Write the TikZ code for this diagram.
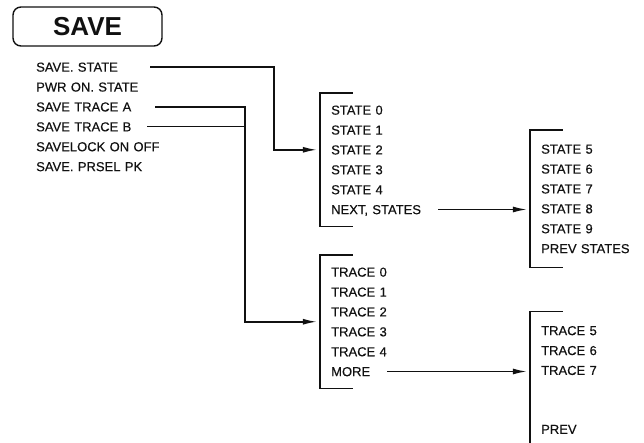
\documentclass[tikz,border=0pt]{standalone}
\usepackage{fontspec}
\setsansfont{Liberation Sans}
\newfontfamily\menufont{Liberation Sans}[FakeBold=0.4]
\usetikzlibrary{arrows.meta,positioning,fit}
\definecolor{ink}{HTML}{111111}
\tikzset{
  every node/.style={font=\sffamily},
  keycap/.style={draw=ink, rounded corners=8pt, line width=1.4pt, minimum width=149pt, minimum height=39pt, inner sep=0pt, text=ink, font=\sffamily\bfseries\fontsize{26}{26}\selectfont},
  item/.style={inner sep=0pt, text width=#1, align=left, minimum height=19.5pt, text height=9.3pt, text depth=0pt, text=ink, font=\menufont\fontsize{13}{13}\selectfont},
  item/.default=95pt,
  menu/.style={inner xsep=11pt, inner ysep=7pt},
  bracket/.style={draw=ink, line width=1.5pt},
  link/.style={draw=ink, line width=1.5pt},
  arrow/.style={-{Latex[length=14pt,width=6pt]}, line width=1.5pt, draw=ink, shorten >=3pt},
}

\begin{document}
\begin{tikzpicture}[x=1pt, y=-1pt, node distance=0pt]
\useasboundingbox (0,0) rectangle (644,443);
\node[keycap] (save) at (87.5,26.5) {SAVE};
\node[item=125pt, anchor=west] (ss) at (36,67) {SAVE. STATE};
\node[item=125pt, below=of ss] (pwr) {PWR ON. STATE};
\node[item=125pt, below=of pwr] (ta) {SAVE TRACE A};
\node[item=125pt, below=of ta] (tb) {SAVE TRACE B};
\node[item=125pt, below=of tb] (lock) {SAVELOCK ON OFF};
\node[item=125pt, below=of lock] (prsel) {SAVE. PRSEL PK};

\node[item, anchor=west] (s0) at (331,110) {STATE 0};
\node[item, below=of s0] (s1) {STATE 1};
\node[item, below=of s1] (s2) {STATE 2};
\node[item, below=of s2] (s3) {STATE 3};
\node[item, below=of s3] (s4) {STATE 4};
\node[item, below=of s4] (snext) {NEXT, STATES};
\node[menu, fit=(s0)(snext)] (m1) {};

\node[item, anchor=west] (s5) at (541,149) {STATE 5};
\node[item, below=of s5] (s6) {STATE 6};
\node[item, below=of s6] (s7) {STATE 7};
\node[item, below=of s7] (s8) {STATE 8};
\node[item, below=of s8] (s9) {STATE 9};
\node[item, below=of s9] (sprev) {PREV STATES};
\node[menu, fit=(s5)(sprev), inner ysep=9pt] (m2) {};

\node[item, anchor=west] (t0) at (331,272) {TRACE 0};
\node[item, below=of t0] (t1) {TRACE 1};
\node[item, below=of t1] (t2) {TRACE 2};
\node[item, below=of t2] (t3) {TRACE 3};
\node[item, below=of t3] (t4) {TRACE 4};
\node[item, below=of t4] (tmore) {MORE};
\node[menu, fit=(t0)(tmore)] (m3) {};

\node[item, anchor=west] (t5) at (541,330.5) {TRACE 5};
\node[item, below=of t5] (t6) {TRACE 6};
\node[item, below=of t6] (t7) {TRACE 7};
\node[item, below=39pt of t7] (tprev) {PREV};
\node[menu, fit=(t5)(tprev), inner ysep=9pt] (m4) {};

\draw[bracket] ([xshift=33pt]m1.north west) -- (m1.north west) -- (m1.south west) -- ++(33,0);
\draw[bracket] ([xshift=33pt]m2.north west) -- (m2.north west) -- (m2.south west) -- ++(33,0);
\draw[bracket] ([xshift=33pt]m3.north west) -- (m3.north west) -- (m3.south west) -- ++(33,0);
\draw[bracket] ([xshift=33pt]m4.north west) -- (m4.north west) -- (m4.south west);

\coordinate (scol) at (274,0);
\coordinate (tcol) at (245,0);
\draw[arrow] ([xshift=114pt]ss.west) -- (ss -| scol) |- (s2 -| m1.west);
\draw[arrow] ([xshift=119pt]ta.west) -- (ta -| tcol) |- (m3.west);
\draw[link] ([xshift=111pt]tb.west) -- (tb -| tcol);
\draw[arrow] ([xshift=107pt]snext.west) -- (snext -| m2.west);
\draw[arrow] ([xshift=56pt]tmore.west) -- (tmore -| m4.west);
\end{tikzpicture}
\end{document}
